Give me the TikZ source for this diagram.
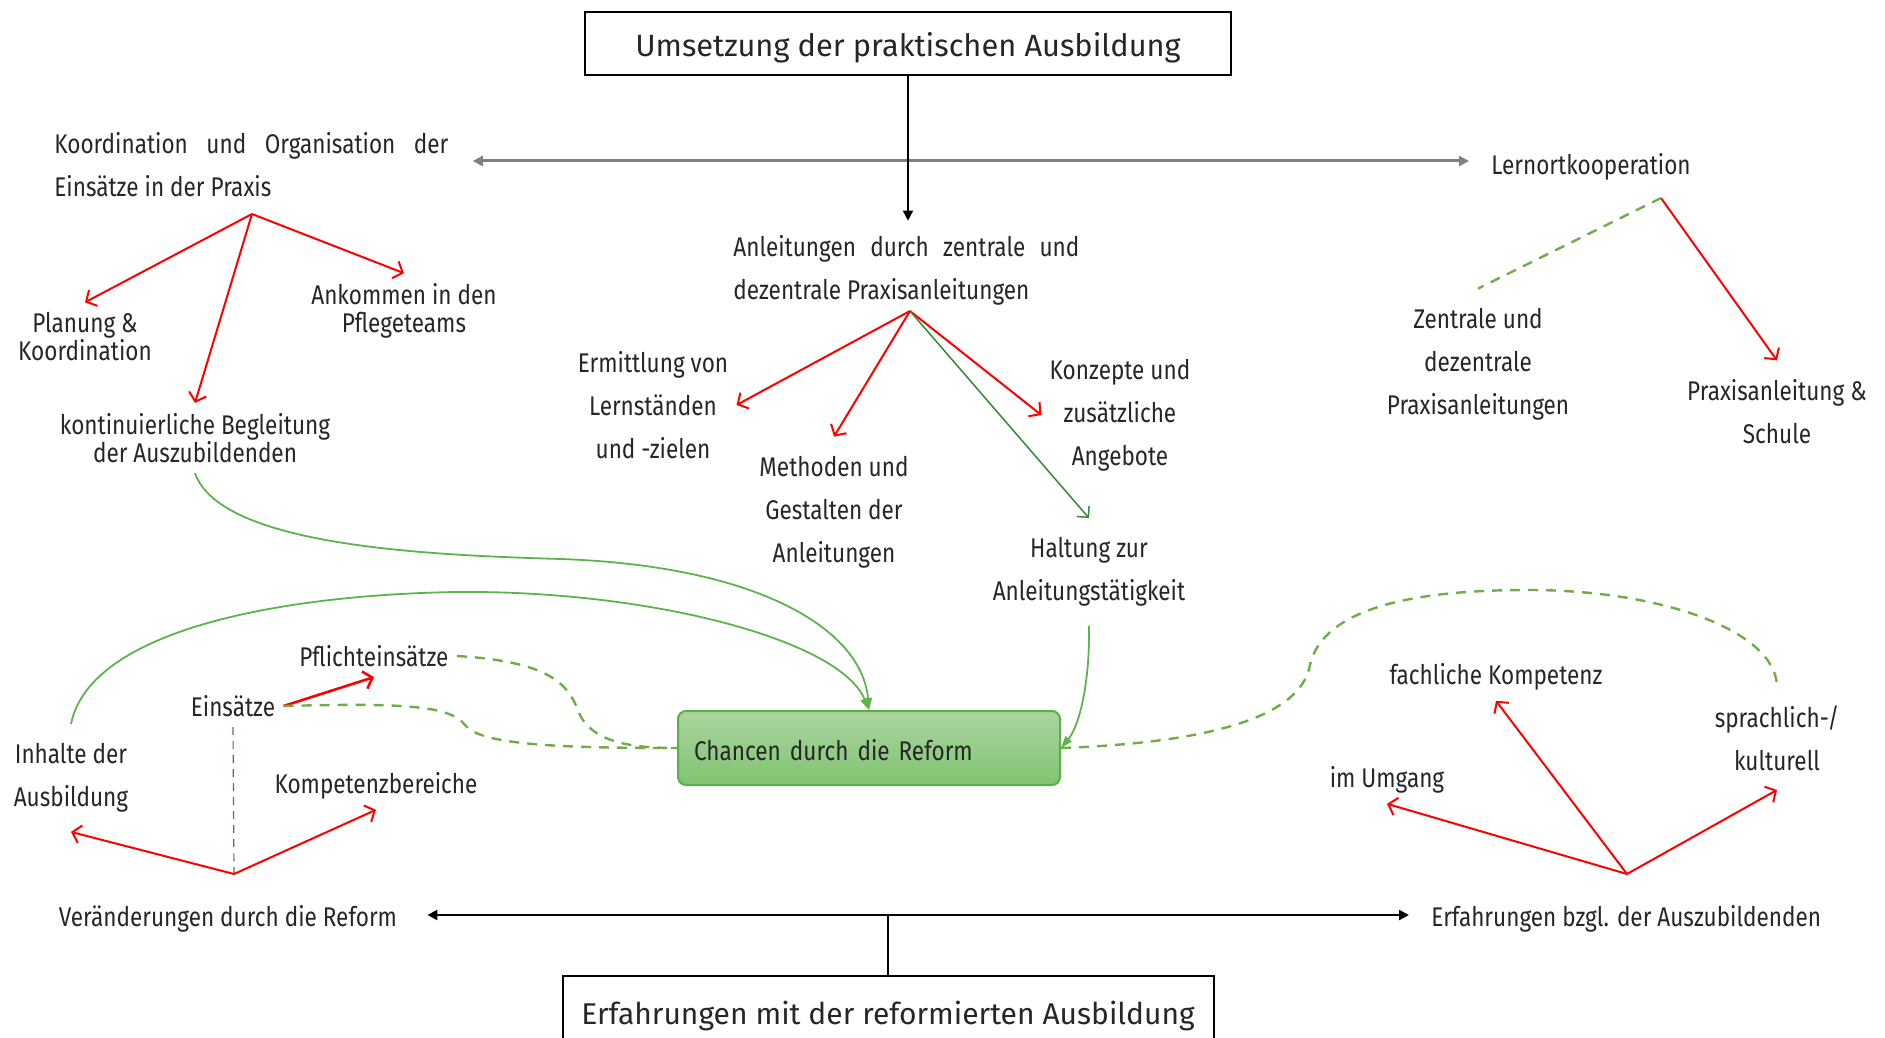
\documentclass[tikz,border=0pt]{standalone}
\usepackage{fontspec}
\setmainfont{Fira Sans}
\newfontfamily\narrowfont{Fira Sans}[FakeStretch=0.835]
\usetikzlibrary{arrows.meta, positioning, calc}

\definecolor{textgray}{RGB}{38,38,38}
\definecolor{linegray}{RGB}{128,128,128}
\definecolor{dashgreen}{RGB}{112,173,71}
\definecolor{curvegreen}{RGB}{96,178,76}
\definecolor{darkgreen}{RGB}{56,135,56}
\definecolor{boxtop}{RGB}{170,213,158}
\definecolor{boxbottom}{RGB}{128,196,114}
\definecolor{boxline}{RGB}{92,174,76}

\tikzset{
  lbl/.style={font=\narrowfont\fontsize{13.5}{14}\selectfont, text=textgray, align=center, inner xsep=4pt, inner ysep=5pt},
  lblwide/.style={lbl, font=\narrowfont\fontsize{13.5}{21.5}\selectfont, inner ysep=9.5pt},
  headbox/.style={draw, line width=1pt, text=textgray},
  chancebox/.style={draw=boxline, line width=1pt, rounded corners=4pt, top color=boxtop, bottom color=boxbottom,
    font=\narrowfont\fontsize{13.5}{14}\selectfont, text=textgray, text width=175pt, align=left, inner xsep=8pt,
    text height=13pt, text depth=1pt, minimum height=37pt},
  redarrow/.style={draw=red, line width=1pt, -{Straight Barb[length=4pt,width=9pt]}},
  greenarrow/.style={draw=darkgreen, line width=0.75pt, -{Straight Barb[length=4pt,width=8pt]}},
  curvearrow/.style={draw=curvegreen, line width=0.9pt, -{Triangle[length=6pt,width=4pt]}},
  greendash/.style={draw=dashgreen, line width=1.2pt, dash pattern=on 5pt off 4pt},
  dbltip/.style={{Triangle[length=5pt,width=5pt]}-{Triangle[length=5pt,width=5pt]}},
}

\begin{document}
\begin{tikzpicture}[x=0.5pt,y=-0.5pt]

\useasboundingbox (0,0) rectangle (1885,1038);

% headings
\node[headbox, font=\fontsize{15.4}{18}\selectfont, text height=16.5pt, text depth=4pt,
  minimum width=323pt, minimum height=31.5pt] (umsetzung) at (908,44) {Umsetzung der praktischen Ausbildung};
\node[headbox, font=\fontsize{15}{18}\selectfont, minimum width=325.5pt, minimum height=40pt] (erfahrungen) at (888,1016) {Erfahrungen mit der reformierten Ausbildung};

% upper row
\node[lblwide, align=left, anchor=west, inner sep=0pt] (koord) at (54,165) {\makebox[197pt][s]{Koordination und Organisation der}\\Einsätze in der Praxis};
\node[lbl, anchor=west] (lernort) at (1483,167) {Lernortkooperation};
\node[lblwide, align=left, anchor=west, inner sep=0pt] (anleit) at (733,270) {\makebox[173pt][s]{Anleitungen durch zentrale und}\\dezentrale Praxisanleitungen};

\draw[dbltip, draw=linegray, line width=1.5pt, shorten <=12pt, shorten >=7pt] ([yshift=2pt]koord.east) -- ([yshift=2pt]koord.east -| lernort.west);
\draw[-{Triangle[length=5pt,width=5pt]}, line width=0.8pt, shorten >=7pt] (umsetzung.south) -- (umsetzung.south |- anleit.north);

% Koordination
\coordinate (koordfork) at (252,214);
\node[lbl] (planung) at (85,337) {Planung \&\\Koordination};
\node[lbl] (ankommen) at (404,311) {Ankommen in den\\Pflegeteams};
\node[lbl] (begleitung) at (195,438) {kontinuierliche Begleitung\\der Auszubildenden};
\foreach \t in {planung,begleitung,ankommen} \draw[redarrow] (koordfork) -- (\t.north);

% Anleitungen
\coordinate (anleitfork) at (910,311);
\node[lblwide] (ermittlung) at (653,405) {Ermittlung von\\Lernständen\\und -zielen};
\node[lblwide] (methoden) at (834,512) {Methoden und\\Gestalten der\\Anleitungen};
\node[lblwide] (konzepte) at (1120,415) {Konzepte und\\zusätzliche\\Angebote};
\node[lblwide] (haltung) at (1089,572) {Haltung zur\\Anleitungstätigkeit};
\foreach \t/\a in {ermittlung/east,methoden/north,konzepte/west} \draw[redarrow] (anleitfork) -- (\t.\a);
\draw[greenarrow] (anleitfork) -- (haltung.north);

% Lernortkooperation
\coordinate (lernortfork) at (1661,198);
\node[lblwide] (zentrale) at (1478,364) {Zentrale und\\dezentrale\\Praxisanleitungen};
\node[lblwide] (praxschule) at (1777,412) {Praxisanleitung \&\\Schule};
\draw[redarrow] (lernortfork) -- (praxschule.north);
\draw[greendash] (lernortfork) -- (zentrale.north);

% Chancen
\node[chancebox] (chancen) at (869,748) {Chancen durch die Reform};

% Veraenderungen
\node[lbl] (pflicht) at (374,656) {Pflichteinsätze};
\node[lbl] (einsaetze) at (233,706) {Einsätze};
\node[lblwide] (inhalte) at (71,778) {Inhalte der\\Ausbildung};
\node[lbl] (kompetenz) at (376,786) {Kompetenzbereiche};
\coordinate (veraendfork) at (234,874);
\node[lbl] (veraend) at (228,919) {Veränderungen durch die Reform};
\draw[redarrow, line width=1.3pt] (einsaetze.east) -- (pflicht.south);
\draw[draw=darkgreen, line width=0.6pt, dash pattern=on 4pt off 3pt] (einsaetze.south) -- (veraendfork);
\foreach \t in {inhalte,kompetenz} \draw[redarrow] (veraendfork) -- (\t.south);

% Erfahrungen bzgl. der Auszubildenden
\node[lbl, anchor=west] (bzgl) at (1423,919) {Erfahrungen bzgl. der Auszubildenden};
\coordinate (bzglfork) at (1627,874);
\node[lbl] (fachlich) at (1496,677) {fachliche Kompetenz};
\node[lbl] (umgang) at (1387,780) {im Umgang};
\node[lblwide] (sprach) at (1777,738) {sprachlich-/\\kulturell};
\foreach \t in {umgang,fachlich,sprach} \draw[redarrow] (bzglfork) -- (\t.south);

\draw[dbltip, line width=1.2pt, shorten <=11pt, shorten >=7pt] ([yshift=2pt]veraend.east) -- ([yshift=2pt]veraend.east -| bzgl.west);
\draw[line width=1pt] (erfahrungen.north) -- ([yshift=2pt]erfahrungen.north |- veraend.east);

% links to Chancen
\draw[curvearrow] (begleitung.south) .. controls (220,545) and (420,555) .. (561,559)
  .. controls (760,566) and (862,630) .. (chancen.north);
\draw[curvearrow] (inhalte.north) .. controls (90,630) and (280,595) .. (456,592)
  .. controls (650,590) and (840,640) .. (chancen.north);
\draw[curvearrow] (haltung.south) .. controls (1090,680) and (1080,725) .. (chancen.east);
\draw[greendash] (pflicht.east) .. controls (560,662) and (570,690) .. (580,715)
  .. controls (595,745) and (640,748) .. (chancen.west);
\draw[greendash] (einsaetze.east) .. controls (400,703) and (450,705) .. (465,725)
  .. controls (480,745) and (560,748) .. (chancen.west);
\draw[greendash] (chancen.east) .. controls (1200,743) and (1300,720) .. (1310,665)
  .. controls (1325,600) and (1440,590) .. (1529,590)
  .. controls (1660,590) and (1775,630) .. (sprach.north);

\end{tikzpicture}
\end{document}
